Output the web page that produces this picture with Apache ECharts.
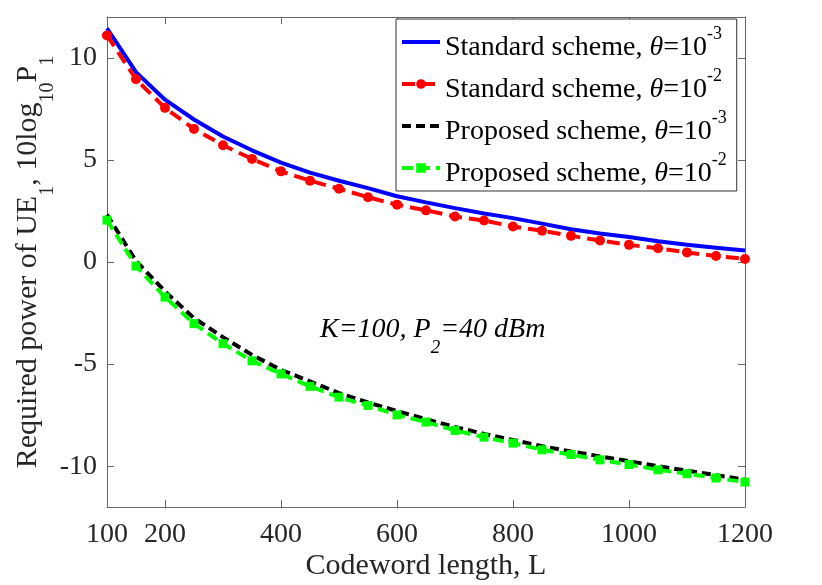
<!DOCTYPE html>
<html>
<head>
<meta charset="utf-8">
<script src="https://cdn.jsdelivr.net/npm/echarts@6/dist/echarts.min.js"></script>
<style>
html, body { margin: 0; padding: 0; background: #fff; }
#chart { width: 822px; height: 585px; }
</style>
</head>
<body>
<div id="chart"></div>
<script>
// codeword length L (x)
var codewordLength = [100, 150, 200, 250, 300, 350, 400, 450, 500, 550, 600, 650,
    700, 750, 800, 850, 900, 950, 1000, 1050, 1100, 1150, 1200];

// required power of UE1 (dB)
var standardE3 = [11.45, 9.3, 7.95, 6.98, 6.15, 5.47, 4.87, 4.38, 3.98, 3.62, 3.22, 2.92,
    2.64, 2.38, 2.15, 1.88, 1.6, 1.4, 1.22, 1.02, 0.84, 0.7, 0.56];
var standardE2 = [11.1, 8.95, 7.55, 6.52, 5.72, 5.05, 4.44, 3.98, 3.59, 3.17, 2.81, 2.53,
    2.23, 2.03, 1.74, 1.53, 1.28, 1.05, 0.84, 0.67, 0.47, 0.29, 0.15];
var proposedE3 = [2.32, 0.05, -1.44, -2.75, -3.68, -4.55, -5.28, -5.85, -6.42, -6.88, -7.3, -7.7,
    -8.08, -8.42, -8.72, -9.02, -9.28, -9.52, -9.76, -10.0, -10.22, -10.44, -10.66];
var proposedE2 = [2.05, -0.2, -1.72, -3.02, -4.0, -4.84, -5.48, -6.09, -6.62, -7.03, -7.49, -7.84,
    -8.25, -8.58, -8.87, -9.2, -9.43, -9.69, -9.92, -10.18, -10.37, -10.58, -10.78];

var xTicks = [100, 200, 400, 600, 800, 1000, 1200];
var yTicks = [-10, -5, 0, 5, 10];

var legendNames = ["Standard scheme, θ=10-3", "Standard scheme, θ=10-2",
    "Proposed scheme, θ=10-3", "Proposed scheme, θ=10-2"];
var legendText = ["Standard scheme, ", "Standard scheme, ", "Proposed scheme, ", "Proposed scheme, "];
var legendExp = ["-3", "-2", "-3", "-2"];

var serif = "Liberation Serif";

function pairs(ys) {
    var out = [];
    for (var i = 0; i < codewordLength.length; i++) {
        out.push([codewordLength[i], ys[i]]);
    }
    return out;
}

var chart = echarts.init(document.getElementById("chart"));

var axisLineStyle = { color: "#666", width: 1 };
var hiddenMark = { opacity: 0, borderWidth: 0 };

var option = {
    animation: false,
    backgroundColor: "#fff",
    grid: { left: 107, right: 77, top: 17, bottom: 78, containLabel: false, outerBoundsMode: "none" },
    xAxis: [
        {
            type: "value",
            position: "bottom",
            min: 100,
            max: 1200,
            name: "Codeword length, L",
            nameLocation: "middle",
            nameGap: 44,
            nameMoveOverlap: false,
            nameTextStyle: { fontFamily: serif, fontSize: 30, color: "#262626" },
            axisLine: { onZero: false, lineStyle: axisLineStyle },
            axisTick: { inside: true, length: 7, customValues: xTicks, lineStyle: axisLineStyle },
            axisLabel: {
                customValues: xTicks, fontFamily: serif, fontSize: 28, color: "#262626", margin: 14,
                formatter: function (v) { return String(v); }
            },
            splitLine: { show: false }
        },
        {
            type: "value",
            position: "top",
            min: 100,
            max: 1200,
            axisLine: { onZero: false, lineStyle: axisLineStyle },
            axisTick: { inside: true, length: 7, customValues: xTicks, lineStyle: axisLineStyle },
            axisLabel: { show: false },
            splitLine: { show: false }
        }
    ],
    yAxis: [
        {
            type: "value",
            position: "left",
            min: -12,
            max: 12,
            name: "{m|Required power of UE}{s|1}{m|, 10log}{s|10}{m|P}{s|1}",
            nameLocation: "middle",
            nameRotate: 90,
            nameGap: 46,
            nameMoveOverlap: false,
            nameTextStyle: {
                fontFamily: serif,
                fontSize: 30,
                color: "#262626",
                lineHeight: 56,
                rich: {
                    m: { fontFamily: serif, fontSize: 30, color: "#262626", verticalAlign: "top", padding: [8, 0, 0, 0] },
                    s: { fontFamily: serif, fontSize: 20, color: "#262626", verticalAlign: "top", padding: [33, 0, 0, 0] }
                }
            },
            axisLine: { show: true, onZero: false, lineStyle: axisLineStyle },
            axisTick: { show: true, inside: true, length: 7, customValues: yTicks, lineStyle: axisLineStyle },
            axisLabel: { customValues: yTicks, fontFamily: serif, fontSize: 28, color: "#262626", margin: 10 },
            splitLine: { show: false }
        },
        {
            type: "value",
            position: "right",
            min: -12,
            max: 12,
            axisLine: { show: true, onZero: false, lineStyle: axisLineStyle },
            axisTick: { show: true, inside: true, length: 7, customValues: yTicks, lineStyle: axisLineStyle },
            axisLabel: { show: false },
            splitLine: { show: false }
        }
    ],
    legend: {
        orient: "vertical",
        left: 396,
        top: 19,
        align: "left",
        itemGap: 2,
        itemWidth: 38,
        itemHeight: 12,
        padding: [3, 10, 3, 4],
        borderColor: "#333",
        borderWidth: 1,
        borderRadius: 0,
        backgroundColor: "#fff",
        lineStyle: { width: 4 },
        data: [
            { name: legendNames[0], itemStyle: hiddenMark },
            { name: legendNames[1] },
            { name: legendNames[2], itemStyle: hiddenMark },
            { name: legendNames[3] }
        ],
        formatter: function (name) {
            var i = legendNames.indexOf(name);
            return "{m|" + legendText[i] + "}{it|θ}{m|=10}{sup|" + legendExp[i] + "}";
        },
        textStyle: {
            fontFamily: serif,
            fontSize: 28,
            color: "#000",
            lineHeight: 40,
            rich: {
                m: { fontFamily: serif, fontSize: 28, color: "#000", verticalAlign: "top", padding: [12, 0, 0, 0] },
                it: { fontFamily: serif, fontSize: 28, fontStyle: "italic", color: "#000", verticalAlign: "top", padding: [12, 0, 0, 0] },
                sup: { fontFamily: serif, fontSize: 18, color: "#000", verticalAlign: "top", padding: [3, 0, 0, 0] }
            }
        }
    },
    graphic: [
        {
            type: "text",
            x: 320,
            y: 310,
            style: {
                text: "{m|K=100, P}{s|2}{m|=40 dBm}",
                fill: "#000",
                verticalAlign: "top",
                lineHeight: 50,
                rich: {
                    m: { fontFamily: serif, fontSize: 28, fontStyle: "italic", fill: "#000", verticalAlign: "top", padding: [6, 0, 0, 0] },
                    s: { fontFamily: serif, fontSize: 19, fontStyle: "italic", fill: "#000", verticalAlign: "top", padding: [28, 0, 0, 0] }
                }
            }
        }
    ],
    series: [
        {
            name: legendNames[0],
            type: "line",
            data: pairs(standardE3),
            showSymbol: false,
            symbol: "none",
            lineStyle: { color: "#0000ff", width: 4, type: "solid" },
            itemStyle: { color: "#0000ff" }
        },
        {
            name: legendNames[1],
            type: "line",
            data: pairs(standardE2),
            symbol: "circle",
            symbolSize: 10,
            lineStyle: { color: "#ff0000", width: 4, type: [13, 7] },
            itemStyle: { color: "#ff0000" }
        },
        {
            name: legendNames[2],
            type: "line",
            data: pairs(proposedE3),
            showSymbol: false,
            symbol: "none",
            lineStyle: { color: "#000", width: 4, type: [9, 5] },
            itemStyle: { color: "#000" }
        },
        {
            name: legendNames[3],
            type: "line",
            data: pairs(proposedE2),
            symbol: "rect",
            symbolSize: 9,
            lineStyle: { color: "#00ff00", width: 4, type: [11, 6] },
            itemStyle: { color: "#00ff00" }
        }
    ]
};

chart.setOption(option);
</script>
</body>
</html>
